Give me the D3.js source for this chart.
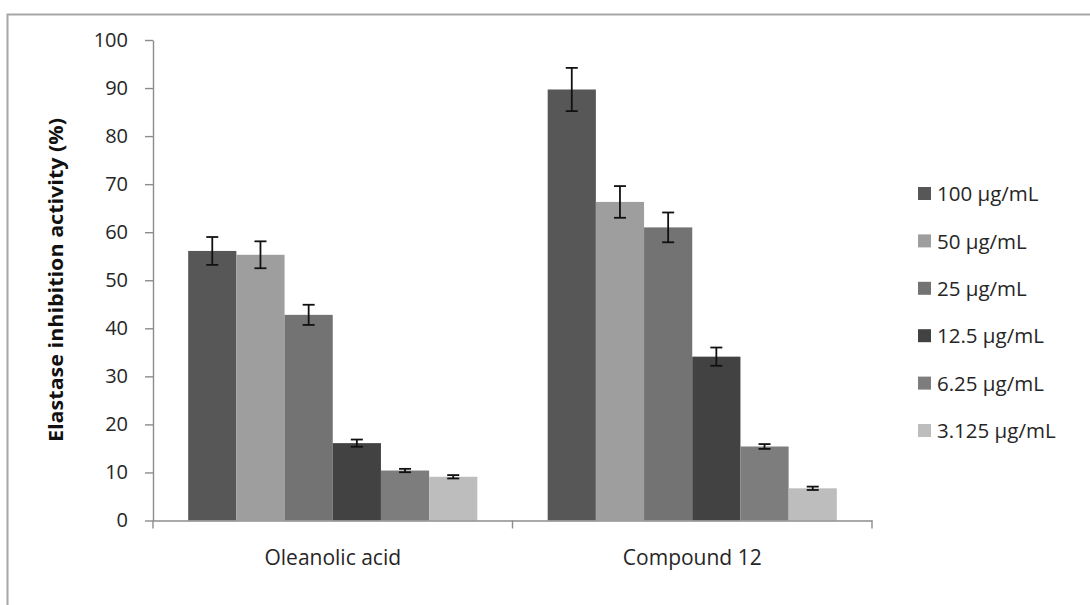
<!DOCTYPE html>
<html><head><meta charset="utf-8">
<script src="https://cdn.jsdelivr.net/npm/d3@7"></script>
<style>body{margin:0;background:#fff}svg{display:block}</style>
</head><body>
<svg id="c" width="1090" height="605"></svg>
<script>
const categories = ["Oleanolic acid", "Compound 12"];
const series = ["100 µg/mL", "50 µg/mL", "25 µg/mL", "12.5 µg/mL", "6.25 µg/mL", "3.125 µg/mL"];
const colors = ["#575757", "#9e9e9e", "#737373", "#424242", "#7d7d7d", "#bdbdbd"];
const oleanolicValues = [56.1, 55.3, 42.8, 16.1, 10.4, 9.1];
const oleanolicErrors = [2.9, 2.8, 2.1, 0.75, 0.35, 0.35];
const compound12Values = [89.7, 66.3, 61.0, 34.1, 15.4, 6.7];
const compound12Errors = [4.5, 3.3, 3.1, 1.9, 0.5, 0.35];
const yTicks = [0, 10, 20, 30, 40, 50, 60, 70, 80, 90, 100];

const values = [oleanolicValues, compound12Values];
const errors = [oleanolicErrors, compound12Errors];

const svg = d3.select("#c");
const font = "'Open Sans', Lato, sans-serif";

svg.append("rect").attr("x", 7.5).attr("y", 14.5).attr("width", 1200).attr("height", 700)
  .attr("fill", "none").attr("stroke", "#a6a6a6").attr("stroke-width", 2);

const mLeft = 153, mRight = 872, mTop = 40, mBottom = 520.5;
const y = d3.scaleLinear().domain([0, 100]).range([mBottom, mTop]);
const x0 = d3.scaleBand().domain(categories).range([mLeft, mRight]).padding(0);
const x1 = d3.scaleBand().domain(series).range([0, x0.bandwidth()]).paddingInner(0).paddingOuter(0.73);

// bars
categories.forEach((cat, ci) => {
  const g = svg.append("g").attr("transform", `translate(${x0(cat)},0)`);
  series.forEach((s, si) => {
    const v = values[ci][si], e = errors[ci][si];
    g.append("rect").attr("x", x1(s)).attr("y", y(v))
      .attr("width", x1.bandwidth()).attr("height", y(0) - y(v)).attr("fill", colors[si]);
    const cx = x1(s) + x1.bandwidth() / 2;
    g.append("line").attr("x1", cx).attr("x2", cx).attr("y1", y(v + e)).attr("y2", y(v - e))
      .attr("stroke", "#111").attr("stroke-width", 1.8);
    [v + e, v - e].forEach(t => g.append("line").attr("x1", cx - 6).attr("x2", cx + 6)
      .attr("y1", y(t)).attr("y2", y(t)).attr("stroke", "#111").attr("stroke-width", 1.8));
  });
});

// y axis
const ya = svg.append("g").attr("transform", `translate(${mLeft},0)`)
  .call(d3.axisLeft(y).tickValues(yTicks).tickSize(8).tickSizeOuter(0).tickPadding(17));
ya.select(".domain").attr("stroke", "#8c8c8c").attr("stroke-width", 1.4);
ya.selectAll(".tick line").attr("stroke", "#8c8c8c").attr("stroke-width", 1.4);
ya.selectAll("text").attr("font-family", font).attr("font-size", 20).attr("fill", "#262626");

// x axis
const xa = svg.append("g").attr("transform", `translate(0,${mBottom})`)
  .call(d3.axisBottom(x0).tickSize(0).tickPadding(30));
xa.select(".domain").attr("stroke", "#8c8c8c").attr("stroke-width", 1.4);
xa.selectAll("text").attr("font-family", font).attr("font-size", 21).attr("fill", "#262626");
const bounds = [mLeft].concat(categories.map(c => x0(c) + x0.bandwidth()));
xa.selectAll(".sep").data(bounds).enter().append("line")
  .attr("x1", d => d).attr("x2", d => d).attr("y1", 0).attr("y2", 8)
  .attr("stroke", "#8c8c8c").attr("stroke-width", 1.4);

// y title
svg.append("text").attr("transform", `translate(63,280) rotate(-90)`)
  .attr("text-anchor", "middle").attr("font-family", font).attr("font-weight", "bold")
  .attr("font-size", 19).attr("textLength", 324).attr("lengthAdjust", "spacingAndGlyphs")
  .attr("fill", "#111").text("Elastase inhibition activity (%)");

// legend
const lg = svg.append("g").attr("transform", "translate(918,194)");
series.forEach((s, i) => {
  const row = lg.append("g").attr("transform", `translate(0,${i * 47.4})`);
  row.append("rect").attr("x", 0).attr("y", -7).attr("width", 13).attr("height", 13).attr("fill", colors[i]);
  row.append("text").attr("x", 19).attr("y", 0).attr("dy", "0.35em")
    .attr("font-family", font).attr("font-size", 20.5).attr("fill", "#262626").text(s);
});
</script>
</body></html>
